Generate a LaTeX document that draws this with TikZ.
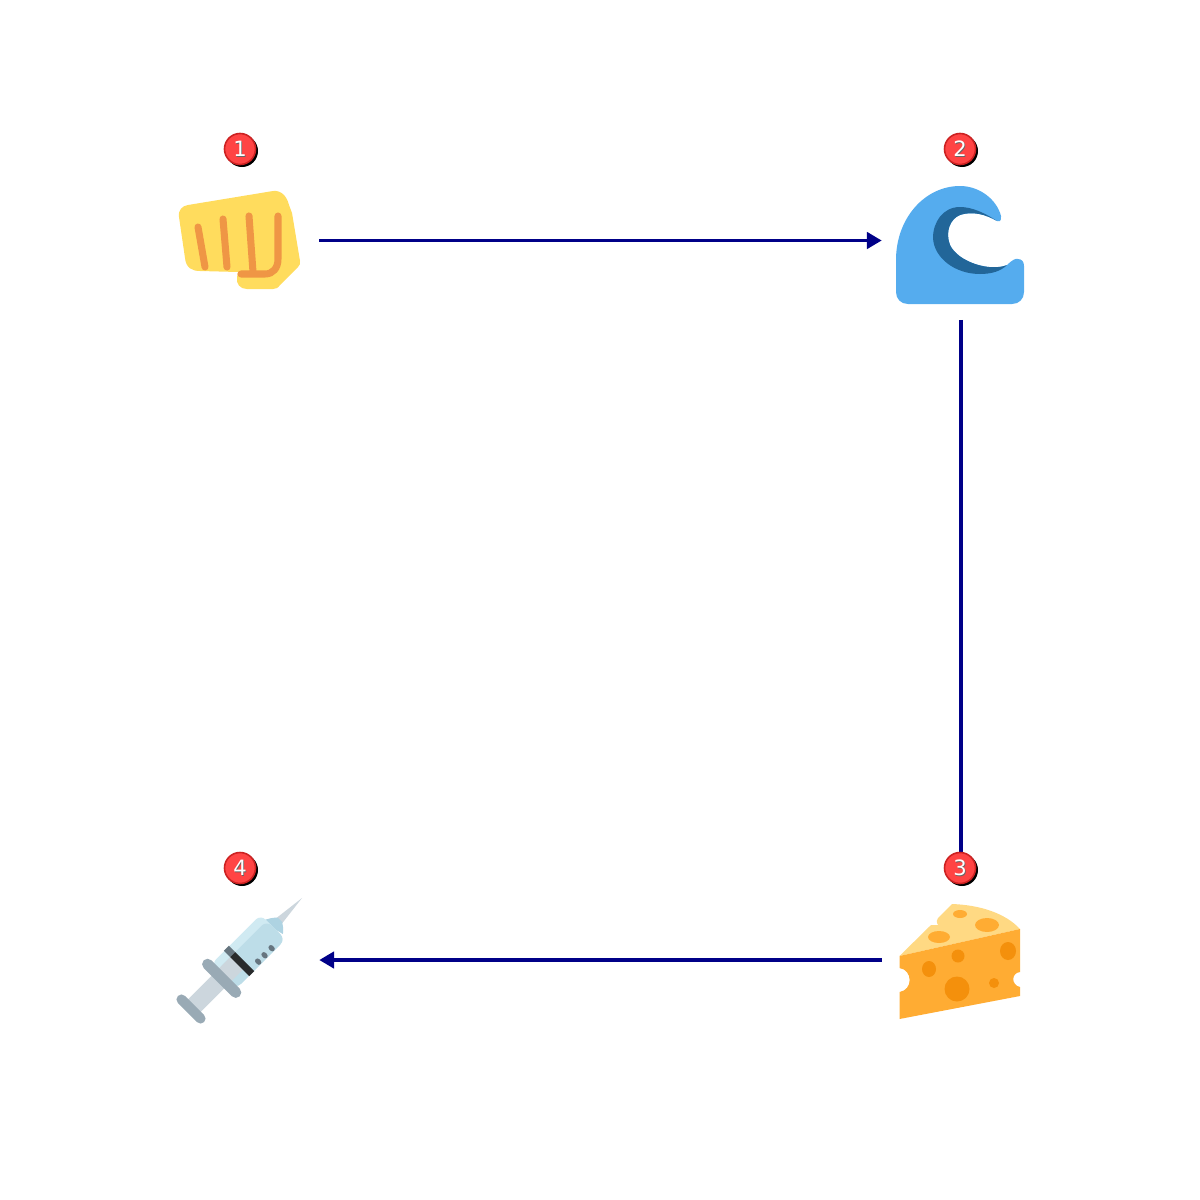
\documentclass[tikz,border=0pt]{standalone}
\usepackage{fontspec}
\setmainfont{DejaVu Sans}
\usetikzlibrary{arrows.meta}
\definecolor{flowblue}{HTML}{000088}
\definecolor{badgered}{HTML}{FF4444}
\definecolor{badgerim}{HTML}{CC2222}
\definecolor{fistyellow}{HTML}{FFDC5D}
\definecolor{fistorange}{HTML}{EF9645}
\definecolor{wavelight}{HTML}{55ACEE}
\definecolor{wavedark}{HTML}{226699}
\definecolor{cheesetop}{HTML}{FFD983}
\definecolor{cheesebody}{HTML}{FFAC33}
\definecolor{cheesehole}{HTML}{F4900C}
\definecolor{syrgrey}{HTML}{99AAB5}
\definecolor{syrrod}{HTML}{CCD6DD}
\definecolor{syrbody}{HTML}{BDDDE8}
\definecolor{syrlight}{HTML}{D0EAF2}
\definecolor{syrhub}{HTML}{AED3E2}
\definecolor{syrmark}{HTML}{66757F}
\tikzset{
  iconbox/.style={minimum size=1.57cm,inner sep=0pt},
  flow/.style={draw=flowblue,line width=1.1pt,-{Triangle[length=4.2pt,width=4.6pt]}},
  badge/.style={circle,fill=badgered,draw=badgerim,line width=0.45pt,minimum size=0.31cm,inner sep=0pt},
  badgetext/.style={inner sep=0pt,font=\fontsize{6}{6}\selectfont},
  fingerline/.style={draw=fistorange,line width=2pt,line cap=round,line join=round},
}
\begin{document}
\begin{tikzpicture}[x=0.01cm,y=-0.01cm]
  \useasboundingbox (0,0) rectangle (1200,1200);
  \node[iconbox] (fist) at (240,240.5) {};
  \node[iconbox] (wave) at (961,240.5) {};
  \node[iconbox] (cheese) at (961,960) {};
  \node[iconbox] (syringe) at (240,960) {};
  % connectors
  \draw[flow] (fist) -- (wave);
  \draw[flow] (wave) -- (cheese);
  \draw[flow] (cheese) -- (syringe);
  % fist
  \fill[fistyellow] (179,217) .. controls (178,210) and (182,206) .. (188,205) -- (273,191)
    .. controls (282,190) and (287,197) .. (289,205) -- (292,213) -- (300,261)
    .. controls (300,264) and (300,265) .. (298,267) -- (280,285)
    .. controls (278,288) and (276,289) .. (273,289) -- (247,289)
    .. controls (240,289) and (236,284) .. (237,277) -- (238,272) -- (200,271)
    .. controls (192,271) and (186,268) .. (185,258) -- cycle;
  \draw[fingerline] (198,227) -- (205,267);
  \draw[fingerline] (223,219) -- (227,267);
  \draw[fingerline] (249,216) -- (253,272);
  \draw[fingerline] (278,216) -- (278,259) .. controls (278,268) and (273,274) .. (265,274) -- (241,274);
  % wave
  \fill[wavelight] (896,292) -- (896,260) .. controls (896,218) and (925,186) .. (960,186)
    .. controls (980,186) and (997,200) .. (1001,216) .. controls (1002,222) and (998,222) .. (997,221)
    .. controls (985,214) and (972,211) .. (960,215) .. controls (950,219) and (945,232) .. (950,245)
    .. controls (958,262) and (990,272) .. (1007,265) .. controls (1012,260) and (1016,258) .. (1018,259)
    .. controls (1022,259) and (1024,262) .. (1024,266) -- (1024,292)
    .. controls (1024,299) and (1019,304) .. (1012,304) -- (908,304)
    .. controls (901,304) and (896,299) .. (896,292) -- cycle;
  \fill[wavedark] (997,221) .. controls (985,213) and (972,207) .. (960,207)
    .. controls (943,207) and (933,222) .. (933,238) .. controls (934,258) and (955,274) .. (980,274)
    .. controls (992,274) and (1001,271) .. (1007,265)
    .. controls (990,272) and (958,262) .. (950,245) .. controls (945,232) and (950,219) .. (960,215)
    .. controls (972,211) and (985,214) .. cycle;
  % cheese
  \fill[cheesetop] (899.5,956) -- (931,925) .. controls (934,924) and (938,926) .. (938,925)
    .. controls (936,922) and (937,919) .. (938,918) -- (952,904)
    .. controls (980,905) and (1005,913) .. (1020,929) -- cycle;
  \fill[cheesebody] (899.5,956) -- (1020,929) -- (1020,972)
    .. controls (1011,973) and (1011,985) .. (1020,987) -- (1020,996) -- (899.5,1019) -- (899.5,992)
    .. controls (913,990) and (913,970) .. (899.5,968) -- cycle;
  \fill[cheesebody] (960,914) ellipse (7 and 4) (987,925) ellipse (12 and 7) (939,937) ellipse (11 and 6);
  \fill[cheesehole] (1008,951) ellipse (8 and 9) (958,956) circle (6.5) (929,969) ellipse (7 and 8)
    (957,989) circle (12.5) (994,983) circle (5);
  % syringe
  \begin{scope}[shift={(191,1009)},rotate=45]
    \fill[syrrod] (157,0) -- (124,-4) -- (124,4) -- cycle;
    \fill[syrhub] (112,-12) .. controls (118,-10) and (124,-6) .. (126,-3) -- (126,3)
      .. controls (124,6) and (122,9) .. (118,12) -- cycle;
    \fill[syrlight,rounded corners=2pt] (46,-17.5) rectangle (116,17.5);
    \fill[syrbody,rounded corners=2pt] (46,-9) -- (116,-9) -- (116,17.5) -- (46,17.5) -- cycle;
    \fill[syrrod] (0,-9) rectangle (66,9);
    \fill[syrmark] (64.5,-18) rectangle (71.5,-9);
    \fill[black!80!syrrod] (64.5,-9) rectangle (71.5,18);
    \foreach \xx in {81,90,100} {\draw[syrmark,line width=1.4pt,line cap=round] (\xx,13) -- (\xx,15);}
    \draw[syrgrey,line width=2.85pt,line cap=round] (0,-13.5) -- (0,13.5);
    \draw[syrgrey,line width=3.1pt,line cap=round] (43.4,-20) -- (43.4,20);
  \end{scope}
  % badges
  \foreach \n/\xx/\yy in {1/240/149,2/960/149,3/960/868,4/240/868} {
    \fill[black] (\xx+2,\yy+2) circle (16);
    \node[badge] (badge\n) at (\xx,\yy) {};
    \node[badgetext,text=black!60] (shade\n) at (\xx+0.8,\yy+0.8) {\n};
    \node[badgetext,text=white] (digit\n) at (\xx,\yy) {\n};
  }
\end{tikzpicture}
\end{document}
